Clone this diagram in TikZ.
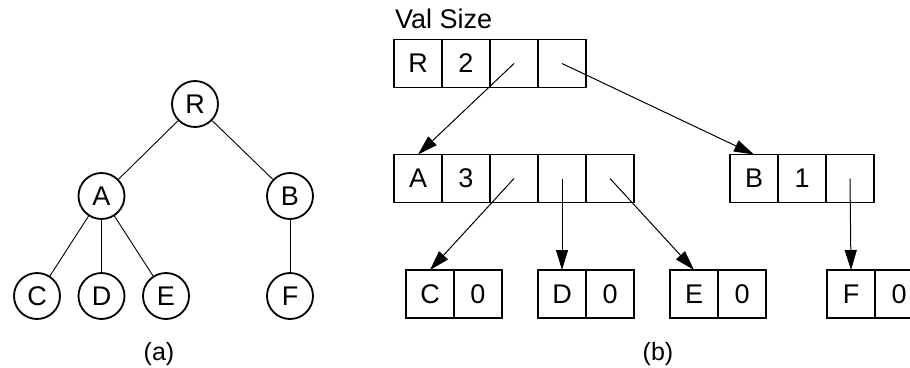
\documentclass[tikz,border=0pt]{standalone}
\usepackage{fontspec}
\setmainfont{Liberation Sans}
\usetikzlibrary{positioning}
\usetikzlibrary{arrows.meta}

\begin{document}
\begin{tikzpicture}[x=1pt, y=-1pt
    , every node/.style={font=\fontsize{27}{32}\selectfont}
    , tnode/.style={draw, circle, line width=1.8pt, minimum size=46pt, inner sep=0pt}
    , cell/.style={draw, rectangle, line width=1.8pt, minimum size=48pt, inner sep=0pt, outer sep=0pt}
    , ptr/.style={-{Triangle[length=20pt, width=12pt]}, line width=1pt}
    , node distance=0pt
    ]

    \useasboundingbox (0,0) rectangle (910,367);

    %% (a) the tree
    \node[tnode] (r) at (195,104) {R};
    \node[tnode] (a) at (101.5,196) {A};
    \node[tnode] (b) at (290,196) {B};
    \node[tnode] (c) at (37,296) {C};
    \node[tnode] (d) at (101.5,296) {D};
    \node[tnode] (e) at (166,296) {E};
    \node[tnode] (f) at (290,296) {F};
    \draw[line width=0.9pt] (r) -- (a);
    \draw[line width=0.9pt] (r) -- (b);
    \draw[line width=0.9pt] (a) -- (c);
    \draw[line width=0.9pt] (a) -- (d);
    \draw[line width=0.9pt] (a) -- (e);
    \draw[line width=0.9pt] (b) -- (f);

    %% (b) the records
    \node[anchor=base west, inner sep=0pt] (hdr) at (395,28) {Val Size};

    % root record
    \node[cell, anchor=west] (rval) at (394,63.5) {R};
    \node[cell, right=of rval] (rsize) {2};
    \node[cell, right=of rsize] (rp1) {};
    \node[cell, right=of rp1] (rp2) {};

    % second level
    \node[cell, anchor=west] (aval) at (394,178.5) {A};
    \node[cell, right=of aval] (asize) {3};
    \node[cell, right=of asize] (ap1) {};
    \node[cell, right=of ap1] (ap2) {};
    \node[cell, right=of ap2] (ap3) {};

    \node[cell, anchor=west] (bval) at (730,178.5) {B};
    \node[cell, right=of bval] (bsize) {1};
    \node[cell, right=of bsize] (bp1) {};

    % leaves
    \node[cell, anchor=west] (cval) at (406,294) {C};
    \node[cell, right=of cval] (csize) {0};
    \node[cell, anchor=west] (dval) at (538,294) {D};
    \node[cell, right=of dval] (dsize) {0};
    \node[cell, anchor=west] (eval) at (670,294) {E};
    \node[cell, right=of eval] (esize) {0};
    \node[cell, anchor=west] (fval) at (827,294) {F};
    \node[cell, right=of fval] (fsize) {0};

    % Now the pointers
    \draw[ptr] (rp1.center) -- (aval.north);
    \draw[ptr] (rp2.center) -- (bval.north);
    \draw[ptr] (ap1.center) -- (cval.north);
    \draw[ptr] (ap2.center) -- (dval.north);
    \draw[ptr] (ap3.center) -- (eval.north);
    \draw[ptr] (bp1.center) -- (fval.north);

    \node[font=\fontsize{25}{30}\selectfont] (capa) at (159,354) {(a)};
    \node[font=\fontsize{25}{30}\selectfont] (capb) at (658,354) {(b)};

\end{tikzpicture}
\end{document}
